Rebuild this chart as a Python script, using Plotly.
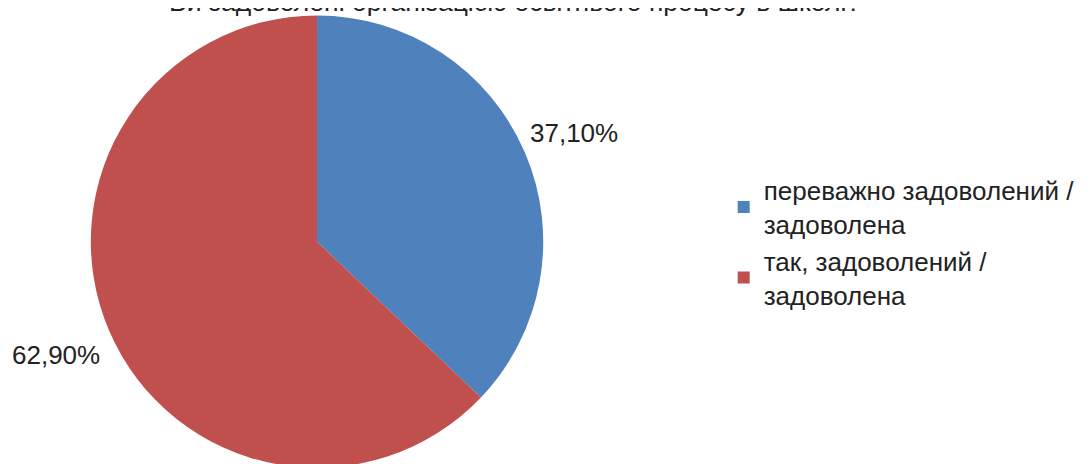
import math
import plotly.graph_objects as go

title_text = "Ви задоволені організацією освітнього процесу в школі?"
categories = ["переважно задоволений /<br>задоволена", "так, задоволений /<br>задоволена"]
values = [37.1, 62.9]
value_labels = ["37,10%", "62,90%"]
colors = ["#4F81BD", "#C0504D"]

W, H = 1091, 464
FONT = "Liberation Sans, Arial"

# reference point (pixels) and radius used for outside label placement
LCX, LCY, R = 307, 236, 227
LABEL_DIST = 1.24

fig = go.Figure(go.Pie(
    labels=categories,
    values=values,
    textinfo="none",
    sort=False,
    direction="clockwise",
    rotation=0,
    marker=dict(colors=colors, line=dict(width=0)),
    domain=dict(x=[0.0752, 0.4913], y=[0.009, 0.984]),
    automargin=False,
    hoverinfo="label+percent",
))

# outside labels at each slice's mid-angle
total = sum(values)
cum = 0.0
annotations = []
for v, lab in zip(values, value_labels):
    mid = (cum + v / 2) / total * 2 * math.pi
    cum += v
    px = LCX + LABEL_DIST * R * math.sin(mid)
    py = LCY - LABEL_DIST * R * math.cos(mid)
    annotations.append(dict(
        x=px / W, y=1 - py / H, xref="paper", yref="paper",
        text=lab, showarrow=False, xanchor="center", yanchor="middle",
        font=dict(size=26, color="#222222", family=FONT),
    ))

# title (partly cut off at the top edge, as in the reference)
annotations.append(dict(
    x=0.465, y=1.0, xref="paper", yref="paper", text=title_text,
    showarrow=False, xanchor="center", yanchor="middle", yshift=6,
    font=dict(size=26.5, color="#222222", family=FONT),
))

fig.update_layout(
    width=W, height=H,
    margin=dict(l=0, r=0, t=0, b=0),
    paper_bgcolor="white",
    plot_bgcolor="white",
    font=dict(family=FONT, size=26, color="#222222"),
    legend=dict(x=0.656, y=0.658, xanchor="left", yanchor="top",
                font=dict(size=26, color="#222222"),
                tracegroupgap=0, itemclick=False),
    showlegend=True,
    annotations=annotations,
)

fig.write_html("out.html")
